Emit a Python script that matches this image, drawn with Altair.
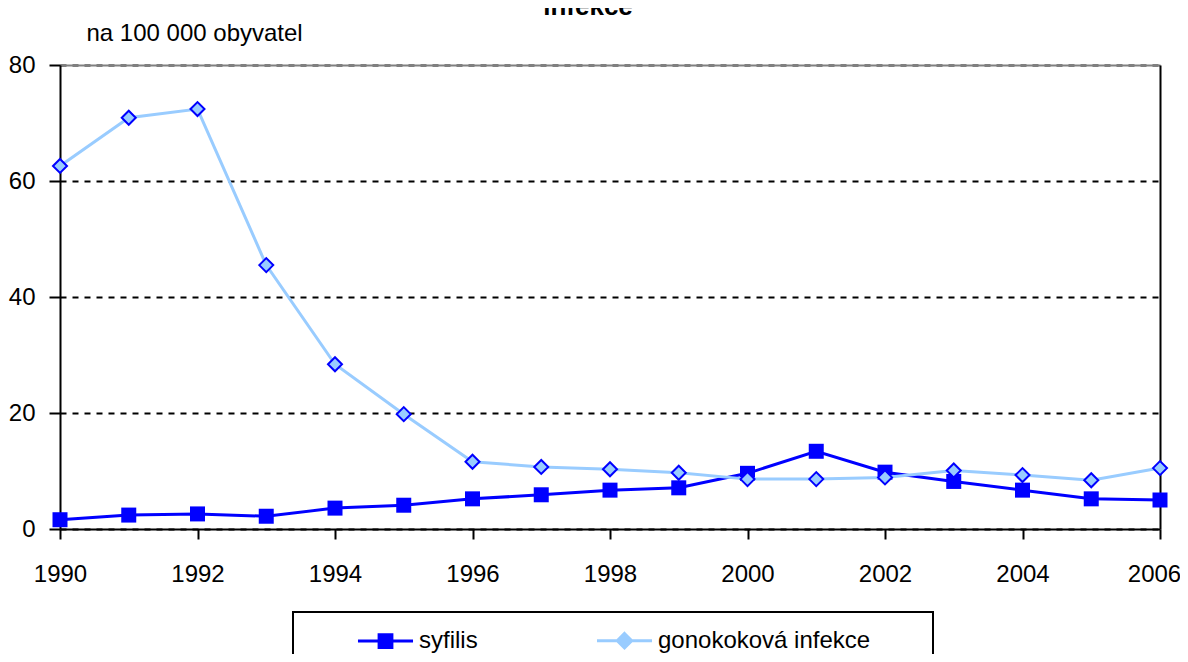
import altair as alt
import pandas as pd

years = list(range(1990, 2007))
syfilis = [1.6, 2.4, 2.6, 2.2, 3.6, 4.1, 5.2, 5.9, 6.7, 7.1, 9.6, 13.4, 9.8, 8.2, 6.7, 5.2, 5.0]
gonokokova = [62.6, 70.9, 72.4, 45.5, 28.4, 19.8, 11.6, 10.7, 10.3, 9.7, 8.6, 8.6, 8.9, 10.1, 9.3, 8.4, 10.5]
series_names = ["syfilis", "gonokoková infekce"]
x_ticks = list(range(1990, 2007, 2))
y_ticks = [0, 20, 40, 60, 80]
title_text = "infekce"
y_title = "na 100 000 obyvatel"

rows = []
for name, vals in zip(series_names, [syfilis, gonokokova]):
    for yr, v in zip(years, vals):
        rows.append({"rok": yr, "hodnota": v, "serie": name})
df = pd.DataFrame(rows)

FONT = "Liberation Sans, Arial, sans-serif"
FS = 24
BLUE = "#0000FF"
LIGHT = "#99CCFF"
NB = "\u00a0"

x_scale = alt.Scale(domain=[1990, 2006], nice=False, zero=False)
y_scale = alt.Scale(domain=[0, 80], nice=False)

x_main = alt.X("rok:Q", scale=x_scale, axis=alt.Axis(
    values=x_ticks, format="d", title=None, grid=False,
    domainColor="black", domainWidth=2, tickColor="black", tickWidth=2,
    tickSize=10, labelPadding=23, labelFontSize=FS, labelFont=FONT,
    labelColor="black", labelFlush=False,
    labelOffset=alt.condition("datum.value == 2006", alt.value(-6), alt.value(0))))
y_main = alt.Y("hodnota:Q", scale=y_scale, axis=alt.Axis(
    values=y_ticks, title=y_title, titleAngle=0, titleAlign="left",
    titleBaseline="alphabetic", titleX=26, titleY=-25, titleFont=FONT,
    titleFontSize=FS, titleFontWeight="normal", titleColor="black",
    grid=True, gridDash=[6, 6], gridColor="black", gridWidth=2,
    domainColor="black", domainWidth=2, tickColor="black", tickWidth=2,
    tickSize=11, labelPadding=14, labelFontSize=FS, labelFont=FONT,
    labelColor="black", labelFlush=False))
x_plain = alt.X("rok:Q", scale=x_scale, axis=None)
y_plain = alt.Y("hodnota:Q", scale=y_scale, axis=None)

base = alt.Chart(df)
syf = base.transform_filter(alt.datum.serie == series_names[0])
gon = base.transform_filter(alt.datum.serie == series_names[1])

syf_line = syf.mark_line(color=BLUE, strokeWidth=3).encode(x=x_main, y=y_main)
syf_pts = syf.mark_point(shape="square", filled=True, color=BLUE, size=225, opacity=1).encode(x=x_plain, y=y_plain)
gon_line = gon.mark_line(color=LIGHT, strokeWidth=3).encode(x=x_plain, y=y_plain)
gon_pts = gon.mark_point(shape="diamond", filled=True, fill=LIGHT, stroke=BLUE,
                         strokeWidth=2, size=196, opacity=1).encode(x=x_plain, y=y_plain)

# legend symbols: line + marker; the trailing move-to widens the last entry (box margin)
sq_path = "M-1.72,0H-0.4M0.4,0H1.72M-0.4,-0.4H0.4V0.4H-0.4Z"
dm_path = "M-1.72,0H-0.45M0.45,0H1.72M0,-0.45L0.45,0L0,0.45L-0.45,0ZM18.2,0"

leg = alt.Legend(
    title=NB, titleOrient="left", titlePadding=64, titleFontSize=FS, titleFont=FONT,
    orient="none", legendX=233, legendY=547, direction="horizontal",
    strokeColor="black", padding=11, symbolSize=1024, symbolStrokeWidth=3,
    labelFont=FONT, labelFontSize=FS, labelColor="black", labelOffset=16,
    labelLimit=0, columnPadding=112,
)

legend_layer = base.transform_filter("false").mark_point(filled=True, opacity=1, strokeWidth=3).encode(
    x=alt.X("rok:Q", scale=x_scale, axis=alt.Axis(orient="top", labels=False, ticks=False,
                                                  domainColor="#808080", domainWidth=2, grid=False, title=None)),
    y=alt.Y("hodnota:Q", scale=y_scale, axis=alt.Axis(orient="right", labels=False, ticks=False,
                                                      domainColor="black", domainWidth=2, grid=False, title=None)),
    shape=alt.Shape("serie:N", scale=alt.Scale(domain=series_names, range=[sq_path, dm_path]), legend=leg),
    stroke=alt.Stroke("serie:N", scale=alt.Scale(domain=series_names, range=[BLUE, LIGHT]), legend=leg),
    fill=alt.Fill("serie:N", scale=alt.Scale(domain=series_names, range=[BLUE, LIGHT]), legend=leg),
)

chart = alt.layer(syf_line, syf_pts, gon_line, gon_pts, legend_layer).resolve_axis(
    x="independent", y="independent"
).properties(
    width=1100, height=464,
    title=alt.TitleParams(text=title_text, font="Liberation Sans, Arial, sans-serif", fontSize=26,
                          fontWeight="bold", anchor="middle", baseline="alphabetic", offset=3,
                          dy=23, dx=-22, color="black", frame="group"),
    autosize=alt.AutoSizeParams(type="none"),
    padding={"left": 52, "top": 57, "right": 20, "bottom": 125},
).configure_view(stroke=None).configure_legend(strokeWidth=2)

chart.save("out.html", embed_options={"renderer": "svg", "actions": False})
